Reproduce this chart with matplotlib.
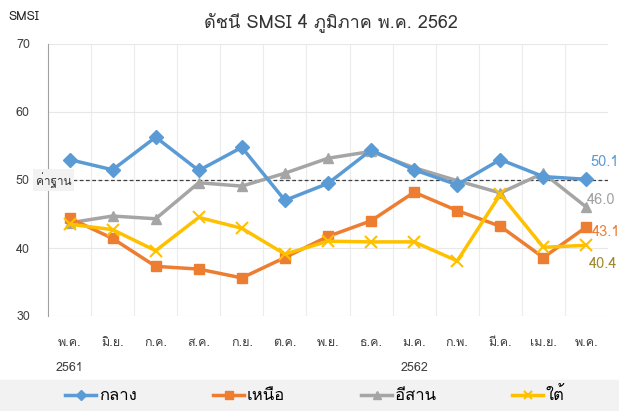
import matplotlib
matplotlib.use('Agg')
import matplotlib.pyplot as plt
from matplotlib import font_manager
from matplotlib.ft2font import FT2Font
from matplotlib.patches import Rectangle

# find an installed font that has Thai glyphs
thai = None
for f in font_manager.fontManager.ttflist:
    try:
        if ord('ก') in FT2Font(f.fname).get_charmap():
            thai = f.name
            break
    except Exception:
        pass
fams = [thai, 'DejaVu Sans'] if thai else ['DejaVu Sans']
plt.rcParams['font.family'] = fams

months = ['พ.ค.', 'มิ.ย.', 'ก.ค.', 'ส.ค.', 'ก.ย.', 'ต.ค.', 'พ.ย.', 'ธ.ค.',
          'ม.ค.', 'ก.พ.', 'มี.ค.', 'เม.ย.', 'พ.ค.']
central = [53.0, 51.5, 56.3, 51.4, 54.8, 47.0, 49.5, 54.4, 51.5, 49.3, 53.0, 50.5, 50.1]
north = [44.4, 41.4, 37.3, 36.9, 35.6, 38.6, 41.7, 44.0, 48.2, 45.5, 43.2, 38.6, 43.1]
northeast = [43.7, 44.7, 44.3, 49.6, 49.1, 51.0, 53.2, 54.2, 51.8, 49.9, 48.1, 51.0, 46.0]
south = [43.5, 42.7, 39.6, 44.5, 42.9, 39.1, 41.0, 40.9, 40.9, 38.1, 47.9, 40.1, 40.4]

fig = plt.figure(figsize=(6.19, 4.11), dpi=100)
fig.patches.append(Rectangle((0, 0), 1, 31 / 411, transform=fig.transFigure,
                             color='#f2f2f2', zorder=0))
ax = fig.add_axes([48 / 619, 1 - 316 / 411, 560 / 619, 272 / 411])
x = list(range(len(months)))

ax.plot(x, central, color='#5b9bd5', lw=2.5, marker='D', ms=7, label='กลาง', zorder=5)
ax.plot(x, north, color='#ed7d31', lw=2.5, marker='s', ms=7.5, label='เหนือ', zorder=4)
ax.plot(x, northeast, color='#a5a5a5', lw=2.5, marker='^', ms=7.5, label='อีสาน', zorder=3)
ax.plot(x, south, color='#ffc000', lw=2.5, marker='x', ms=8, mew=1.5, label='ใต้', zorder=6)

ax.axhline(50, color='#404040', lw=0.9, ls=(0, (3, 2)), zorder=2)
ax.text(-0.37, 50, 'ค่าฐาน', fontsize=8.5, ha='center', va='center', color='#333333',
        bbox=dict(boxstyle='square,pad=0.25', fc='#f2f2f2', ec='none'), zorder=7, clip_on=False)

ax.set_xlim(-0.5, 12.5)
ax.set_ylim(30, 70)
ax.set_yticks([30, 40, 50, 60, 70])
ax.set_xticks(x)
ax.set_xticklabels(months)
ax.set_xticks([i + 0.5 for i in x[:-1]], minor=True)
ax.grid(True, axis='y', color='#e8e8e8', lw=0.8, zorder=0)
ax.grid(True, axis='x', which='minor', color='#ececec', lw=0.8, zorder=0)
ax.tick_params(axis='both', which='both', length=0, labelsize=9, colors='#404040')
ax.tick_params(axis='y', pad=13)
ax.tick_params(axis='x', pad=15)
for s in ['top', 'right', 'bottom']:
    ax.spines[s].set_visible(False)
ax.spines['left'].set_color('#a0a0a0')
ax.spines['left'].set_linewidth(0.8)
ax.spines['left'].set_bounds(30, 70)

ax.text(0, -0.19, '2561', transform=ax.get_xaxis_transform(), ha='center', va='center',
        fontsize=9, color='#404040')
ax.text(8, -0.19, '2562', transform=ax.get_xaxis_transform(), ha='center', va='center',
        fontsize=9, color='#404040')

ax.text(12.1, 52.7, '50.1', color='#5b9bd5', fontsize=10.5, va='center', clip_on=False)
ax.text(12.0, 47.1, '46.0', color='#a0a0a0', fontsize=10.5, va='center', clip_on=False)
ax.text(12.12, 42.4, '43.1', color='#ed7d31', fontsize=10.5, va='center', clip_on=False)
ax.text(12.05, 37.7, '40.4', color='#a08a2a', fontsize=10.5, va='center', clip_on=False)

fig.text(0.535, 1 - 22 / 411, 'ดัชนี SMSI 4 ภูมิภาค พ.ค. 2562', ha='center', va='center',
         fontsize=13, color='#333333')
fig.text(8 / 619, 1 - 17 / 411, 'SMSI', ha='left', va='center', fontsize=9, color='#222222')

fig.legend(loc='center', bbox_to_anchor=(0.509, 15 / 411), ncol=4, frameon=False,
           fontsize=12, columnspacing=4.6, handlelength=1.85, handletextpad=0.15,
           markerscale=0.75)

fig.savefig('out.png', dpi=100)
